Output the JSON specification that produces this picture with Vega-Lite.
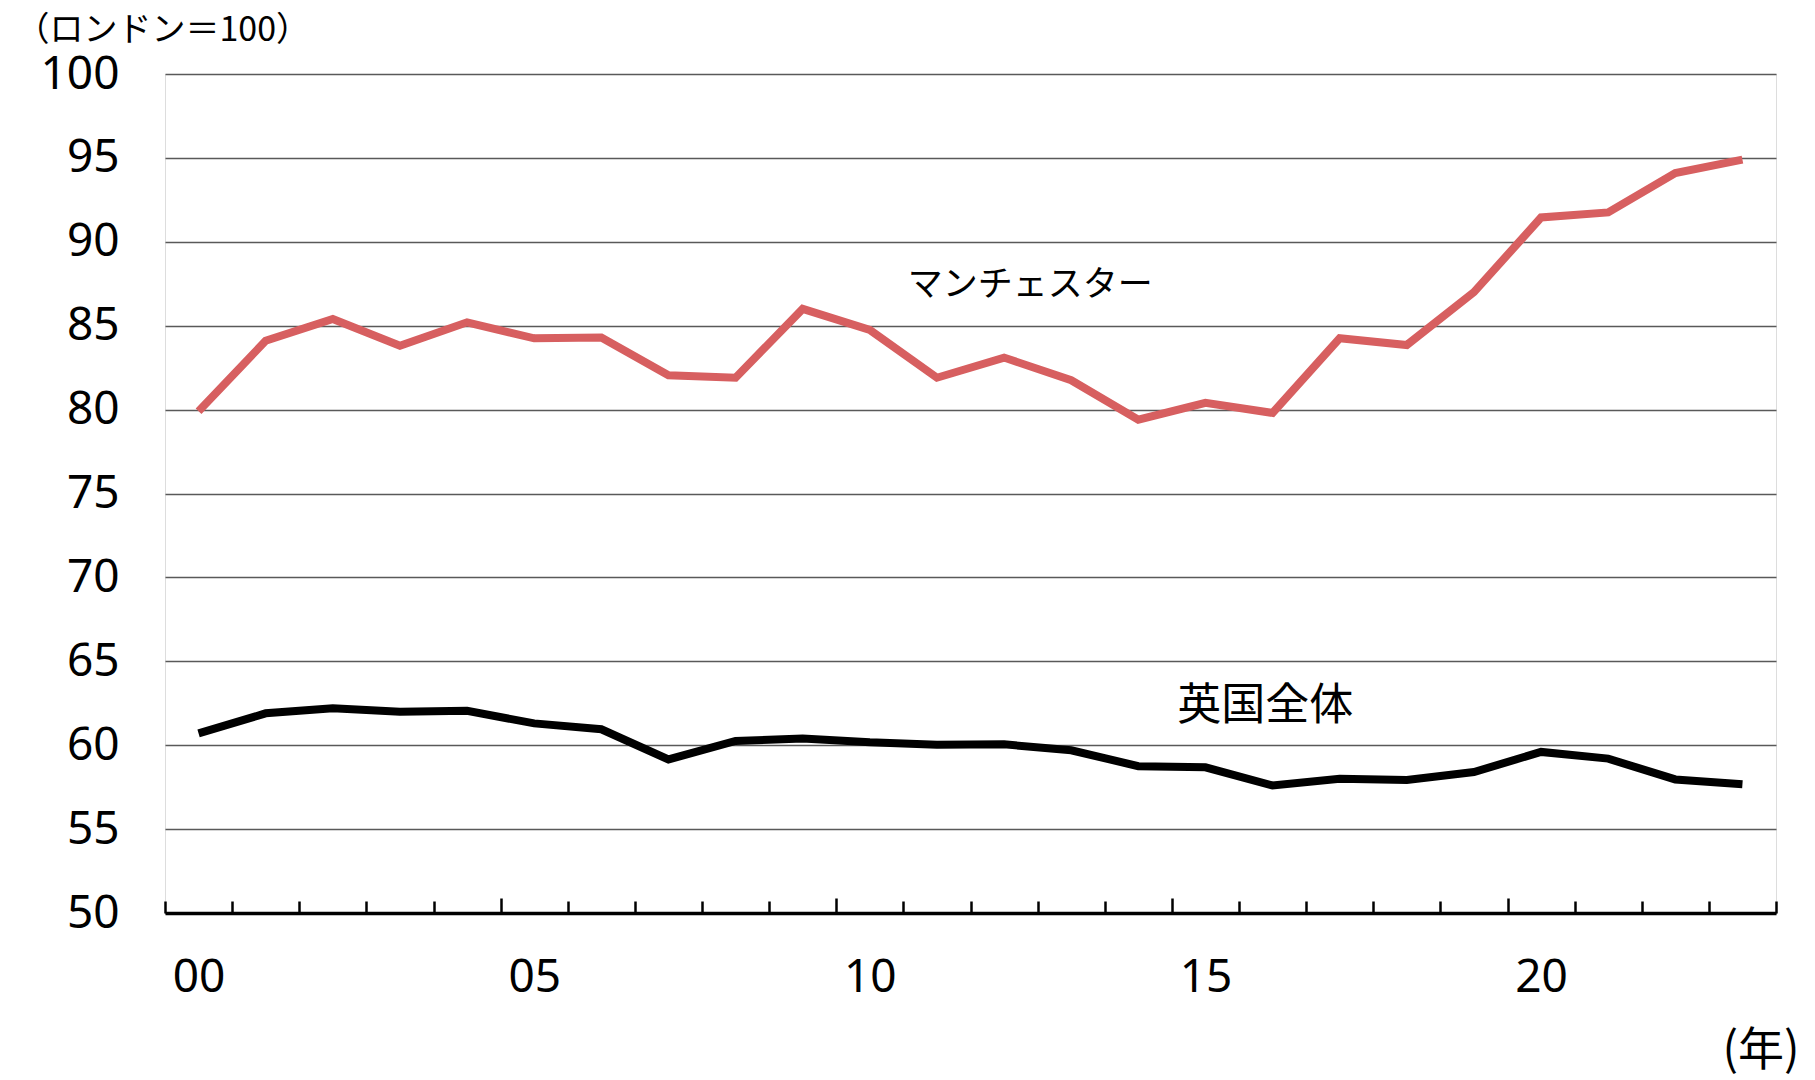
{
  "$schema": "https://vega.github.io/schema/vega-lite/v6.json",
  "width": 1611,
  "height": 839,
  "autosize": "none",
  "padding": {"left": 165, "top": 74, "right": 39, "bottom": 167},
  "background": "white",
  "datasets": {
    "series": [
      {"year": 2000, "area": "マンチェスター", "value": 79.9},
      {"year": 2001, "area": "マンチェスター", "value": 84.1},
      {"year": 2002, "area": "マンチェスター", "value": 85.4},
      {"year": 2003, "area": "マンチェスター", "value": 83.8},
      {"year": 2004, "area": "マンチェスター", "value": 85.2},
      {"year": 2005, "area": "マンチェスター", "value": 84.25},
      {"year": 2006, "area": "マンチェスター", "value": 84.3},
      {"year": 2007, "area": "マンチェスター", "value": 82.05},
      {"year": 2008, "area": "マンチェスター", "value": 81.9},
      {"year": 2009, "area": "マンチェスター", "value": 86.0},
      {"year": 2010, "area": "マンチェスター", "value": 84.75},
      {"year": 2011, "area": "マンチェスター", "value": 81.9},
      {"year": 2012, "area": "マンチェスター", "value": 83.1},
      {"year": 2013, "area": "マンチェスター", "value": 81.75},
      {"year": 2014, "area": "マンチェスター", "value": 79.4},
      {"year": 2015, "area": "マンチェスター", "value": 80.4},
      {"year": 2016, "area": "マンチェスター", "value": 79.8},
      {"year": 2017, "area": "マンチェスター", "value": 84.25},
      {"year": 2018, "area": "マンチェスター", "value": 83.85},
      {"year": 2019, "area": "マンチェスター", "value": 87.0},
      {"year": 2020, "area": "マンチェスター", "value": 91.45},
      {"year": 2021, "area": "マンチェスター", "value": 91.75},
      {"year": 2022, "area": "マンチェスター", "value": 94.1},
      {"year": 2023, "area": "マンチェスター", "value": 94.9},
      {"year": 2000, "area": "英国全体", "value": 60.7},
      {"year": 2001, "area": "英国全体", "value": 61.9},
      {"year": 2002, "area": "英国全体", "value": 62.2},
      {"year": 2003, "area": "英国全体", "value": 62.0},
      {"year": 2004, "area": "英国全体", "value": 62.05},
      {"year": 2005, "area": "英国全体", "value": 61.3},
      {"year": 2006, "area": "英国全体", "value": 60.95},
      {"year": 2007, "area": "英国全体", "value": 59.15},
      {"year": 2008, "area": "英国全体", "value": 60.25},
      {"year": 2009, "area": "英国全体", "value": 60.4},
      {"year": 2010, "area": "英国全体", "value": 60.17},
      {"year": 2011, "area": "英国全体", "value": 60.03},
      {"year": 2012, "area": "英国全体", "value": 60.05},
      {"year": 2013, "area": "英国全体", "value": 59.7},
      {"year": 2014, "area": "英国全体", "value": 58.75},
      {"year": 2015, "area": "英国全体", "value": 58.68},
      {"year": 2016, "area": "英国全体", "value": 57.6},
      {"year": 2017, "area": "英国全体", "value": 58.0},
      {"year": 2018, "area": "英国全体", "value": 57.93},
      {"year": 2019, "area": "英国全体", "value": 58.4},
      {"year": 2020, "area": "英国全体", "value": 59.6},
      {"year": 2021, "area": "英国全体", "value": 59.2},
      {"year": 2022, "area": "英国全体", "value": 57.96},
      {"year": 2023, "area": "英国全体", "value": 57.67}
    ]
  },
  "layer": [
    {
      "data": {"name": "series"},
      "mark": {"type": "line", "strokeWidth": 8, "strokeJoin": "miter", "strokeCap": "butt"},
      "encoding": {
        "x": {
          "field": "year",
          "type": "quantitative",
          "scale": {"domain": [1999.5, 2023.5], "nice": false, "zero": false},
          "axis": {
            "values": [1999.5, 2000.5, 2001.5, 2002.5, 2003.5, 2004.5, 2005.5, 2006.5, 2007.5, 2008.5, 2009.5, 2010.5, 2011.5, 2012.5, 2013.5, 2014.5, 2015.5, 2016.5, 2017.5, 2018.5, 2019.5, 2020.5, 2021.5, 2022.5, 2023.5],
            "labelExpr": "(datum.value + 0.5) % 5 == 0 && datum.value < 2023 ? slice(toString(datum.value + 0.5), 2) : ''",
            "labelOffset": 33.6,
            "labelFlush": false,
            "labelOverlap": false,
            "labelAlign": "center",
            "labelBaseline": "middle",
            "labelPadding": {"condition": {"test": "(datum.value + 0.5) % 5 == 0 && datum.value > 2000 && datum.value < 2023", "value": 79}, "value": 76},
            "labelFont": "Noto Sans",
            "labelFontSize": 46,
            "labelColor": "black",
            "tickSize": {"condition": {"test": "(datum.value + 0.5) % 5 == 0 && datum.value > 2000 && datum.value < 2023", "value": -15}, "value": -12},
            "tickWidth": 2.5,
            "tickColor": "black",
            "domainColor": "black",
            "domainWidth": 3.5,
            "grid": false,
            "title": "(年)",
            "titleFont": "Noto Sans CJK JP",
            "titleFontSize": 46,
            "titleFontWeight": "normal",
            "titleColor": "black",
            "titleAngle": 0,
            "titleAlign": "right",
            "titleBaseline": "middle",
            "titleX": 1634,
            "titleY": 137
          }
        },
        "y": {
          "field": "value",
          "type": "quantitative",
          "scale": {"domain": [50, 100], "nice": false, "zero": false},
          "axis": {
            "values": [50, 55, 60, 65, 70, 75, 80, 85, 90, 95, 100],
            "domain": false,
            "ticks": false,
            "grid": true,
            "gridColor": "#595959",
            "gridWidth": 1.3,
            "labelFont": "Noto Sans",
            "labelFontSize": 46,
            "labelColor": "black",
            "labelPadding": 46,
            "labelBaseline": "middle",
            "title": "（ロンドン＝100）",
            "titleFont": "Noto Sans CJK JP",
            "titleFontSize": 34,
            "titleFontWeight": "normal",
            "titleColor": "black",
            "titleAngle": 0,
            "titleAlign": "left",
            "titleBaseline": "middle",
            "titleX": -150,
            "titleY": -44
          }
        },
        "color": {
          "field": "area",
          "type": "nominal",
          "scale": {"domain": ["マンチェスター", "英国全体"], "range": ["#D75F60", "#000000"]},
          "legend": null
        }
      }
    },
    {
      "data": {"values": [{"year": 2012.39, "value": 87.4, "label": "マンチェスター"}]},
      "mark": {"type": "text", "font": "Noto Sans CJK JP", "fontSize": 35, "color": "black", "align": "center", "baseline": "middle"},
      "encoding": {
        "x": {"field": "year", "type": "quantitative"},
        "y": {"field": "value", "type": "quantitative"},
        "text": {"field": "label"}
      }
    },
    {
      "data": {"values": [{"year": 2015.89, "value": 62.3, "label": "英国全体"}]},
      "mark": {"type": "text", "font": "Noto Sans CJK JP", "fontSize": 44, "color": "black", "align": "center", "baseline": "middle"},
      "encoding": {
        "x": {"field": "year", "type": "quantitative"},
        "y": {"field": "value", "type": "quantitative"},
        "text": {"field": "label"}
      }
    }
  ]
}
